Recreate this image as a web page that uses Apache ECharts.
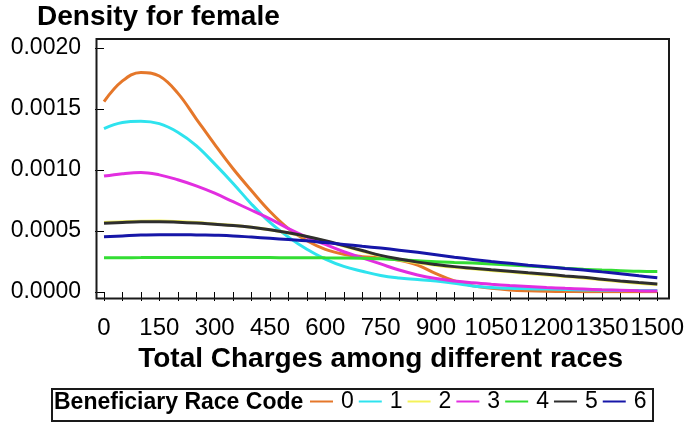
<!DOCTYPE html>
<html>
<head>
<meta charset="utf-8">
<script src="https://cdn.jsdelivr.net/npm/echarts@6/dist/echarts.min.js"></script>
<style>
html,body{margin:0;padding:0;background:#fff;}
#chart{width:687px;height:423px;}
</style>
</head>
<body>
<div id="chart"></div>
<script>
// x grid of the density estimates
const xValues = [0,50,100,150,200,250,300,350,400,450,500,550,600,650,700,750,800,850,900,950,1000,1050,1100,1150,1200,1250,1300,1350,1400,1450,1500];
const raceCodes = ['0','1','2','3','4','5','6'];
const race0 = [0.00156,0.00173,0.00180,0.00177,0.00163,0.00142,0.00121,0.00101,0.00083,0.00066,0.00052,0.00042,0.00035,0.00031,0.00029,0.00028,0.00026,0.00022,0.00015,0.00009,0.00005,0.00003,0.000017,0.00001,0.000006,0.000004,0.000003,0.000002,0.000002,0.000002,0.000002];
const race1 = [0.00134,0.00139,0.00140,0.00138,0.00131,0.00120,0.00105,0.00089,0.00072,0.00057,0.00045,0.00035,0.00027,0.00021,0.00017,0.000135,0.000115,0.000103,0.00009,0.000072,0.00005,0.000037,0.00003,0.000027,0.000024,0.00002,0.000017,0.000015,0.000013,0.000012,0.000012];
const race2 = [0.000569,0.000576,0.00058,0.000581,0.000577,0.000569,0.000558,0.000547,0.000531,0.00051,0.000484,0.000453,0.000417,0.000377,0.000336,0.000296,0.000265,0.00024,0.00022,0.000203,0.00019,0.000177,0.000165,0.000152,0.00014,0.000127,0.000115,0.0001,0.000085,0.000072,0.000061];
const race3 = [0.00095,0.00097,0.00098,0.00096,0.00092,0.00087,0.00081,0.00074,0.00067,0.00060,0.00052,0.00045,0.00039,0.00033,0.00028,0.00023,0.00018,0.00014,0.00011,0.00009,0.000075,0.000063,0.000053,0.000045,0.000037,0.00003,0.000024,0.000018,0.000014,0.00001,0.000008];
const race4 = [0.00028,0.000281,0.000282,0.000283,0.000283,0.000283,0.000283,0.000283,0.000282,0.000282,0.000281,0.000281,0.00028,0.000279,0.000277,0.000272,0.000265,0.000257,0.000248,0.000242,0.000237,0.00023,0.000222,0.000213,0.000203,0.000194,0.000186,0.00018,0.000175,0.00017,0.000168];
const race5 = [0.000563,0.00057,0.000575,0.000576,0.000572,0.000565,0.000555,0.000545,0.00053,0.00051,0.000485,0.000455,0.00042,0.00038,0.00034,0.0003,0.00027,0.000245,0.000225,0.000208,0.000195,0.000182,0.00017,0.000157,0.000145,0.000132,0.00012,0.000105,0.00009,0.000077,0.000066];
const race6 = [0.000453,0.00046,0.000467,0.00047,0.00047,0.000468,0.000465,0.00046,0.00045,0.00044,0.00043,0.00042,0.000405,0.00039,0.000375,0.00036,0.000343,0.000325,0.000305,0.000285,0.000267,0.00025,0.000235,0.00022,0.000207,0.000193,0.00018,0.000165,0.00015,0.000133,0.000117];
const yTicks = [0, 0.0005, 0.0010, 0.0015, 0.0020];

const allRaces = [race0, race1, race2, race3, race4, race5, race6];
const lineColors = ['#E5772A','#2EE3EE','#F4F25A','#E22EE0','#33DD33','#2E2E2E','#1616A8'];
const FONT = '"Liberation Sans", Arial, sans-serif';

const chart = echarts.init(document.getElementById('chart'), null, {renderer: 'canvas'});

const series = raceCodes.map((code, i) => ({
  name: code,
  type: 'line',
  data: xValues.map((x, j) => [x, allRaces[i][j]]),
  smooth: 0.4,
  showSymbol: false,
  symbol: 'none',
  lineStyle: {width: 3, color: lineColors[i]},
  itemStyle: {color: lineColors[i]},
  z: 2 + i
}));

chart.setOption({
  animation: false,
  backgroundColor: '#ffffff',
  title: {
    text: 'Density for female',
    left: 37, top: 3, padding: 0,
    textStyle: {fontFamily: FONT, fontSize: 28, fontWeight: 'bold', color: '#000'}
  },
  grid: {left: 104, right: 28, top: 48, bottom: 131, containLabel: false},
  xAxis: {
    type: 'value', min: 0, max: 1500, interval: 50,
    offset: 7,
    name: 'Total Charges among different races',
    nameLocation: 'middle', nameGap: 44,
    nameTextStyle: {fontFamily: FONT, fontSize: 28, fontWeight: 'bold', color: '#000'},
    axisLine: {show: false},
    axisTick: {show: true, length: 9, inside: false, lineStyle: {color: '#000', width: 1}},
    splitLine: {show: false},
    axisLabel: {
      fontFamily: FONT, fontSize: 24, color: '#000', margin: 17,
      showMinLabel: true, showMaxLabel: true,
      formatter: v => (v % 150 === 0 ? String(v) : '')
    }
  },
  yAxis: {
    type: 'value', min: yTicks[0], max: yTicks[yTicks.length - 1], interval: 0.0005,
    offset: 8,
    axisLine: {show: false},
    axisTick: {show: true, length: 9, inside: false, lineStyle: {color: '#000', width: 1}},
    splitLine: {show: false},
    axisLabel: {
      fontFamily: FONT, fontSize: 23, color: '#000', margin: 15,
      formatter: v => v.toFixed(4)
    }
  },
  legend: {
    data: raceCodes,
    left: 310, top: 390, padding: 0,
    orient: 'horizontal',
    icon: 'rect', itemWidth: 23, itemHeight: 2, itemGap: 5,
    textStyle: {fontFamily: FONT, fontSize: 23, color: '#000', padding: [0, 0, 0, 3]},
    selectedMode: false
  },
  graphic: [
    {
      type: 'rect', silent: true, z: 100,
      shape: {x: 96.5, y: 39, width: 572.5, height: 259.5},
      style: {fill: 'none', stroke: '#1a1a1a', lineWidth: 2}
    },
    {
      type: 'rect', silent: true,
      shape: {x: 52, y: 389, width: 601, height: 32},
      style: {fill: 'none', stroke: '#1a1a1a', lineWidth: 2}
    },
    {
      type: 'text', silent: true,
      left: 54, top: 391,
      style: {text: 'Beneficiary Race Code', font: 'bold 23px ' + FONT, fill: '#000'}
    }
  ],
  series: series
});
</script>
</body>
</html>
